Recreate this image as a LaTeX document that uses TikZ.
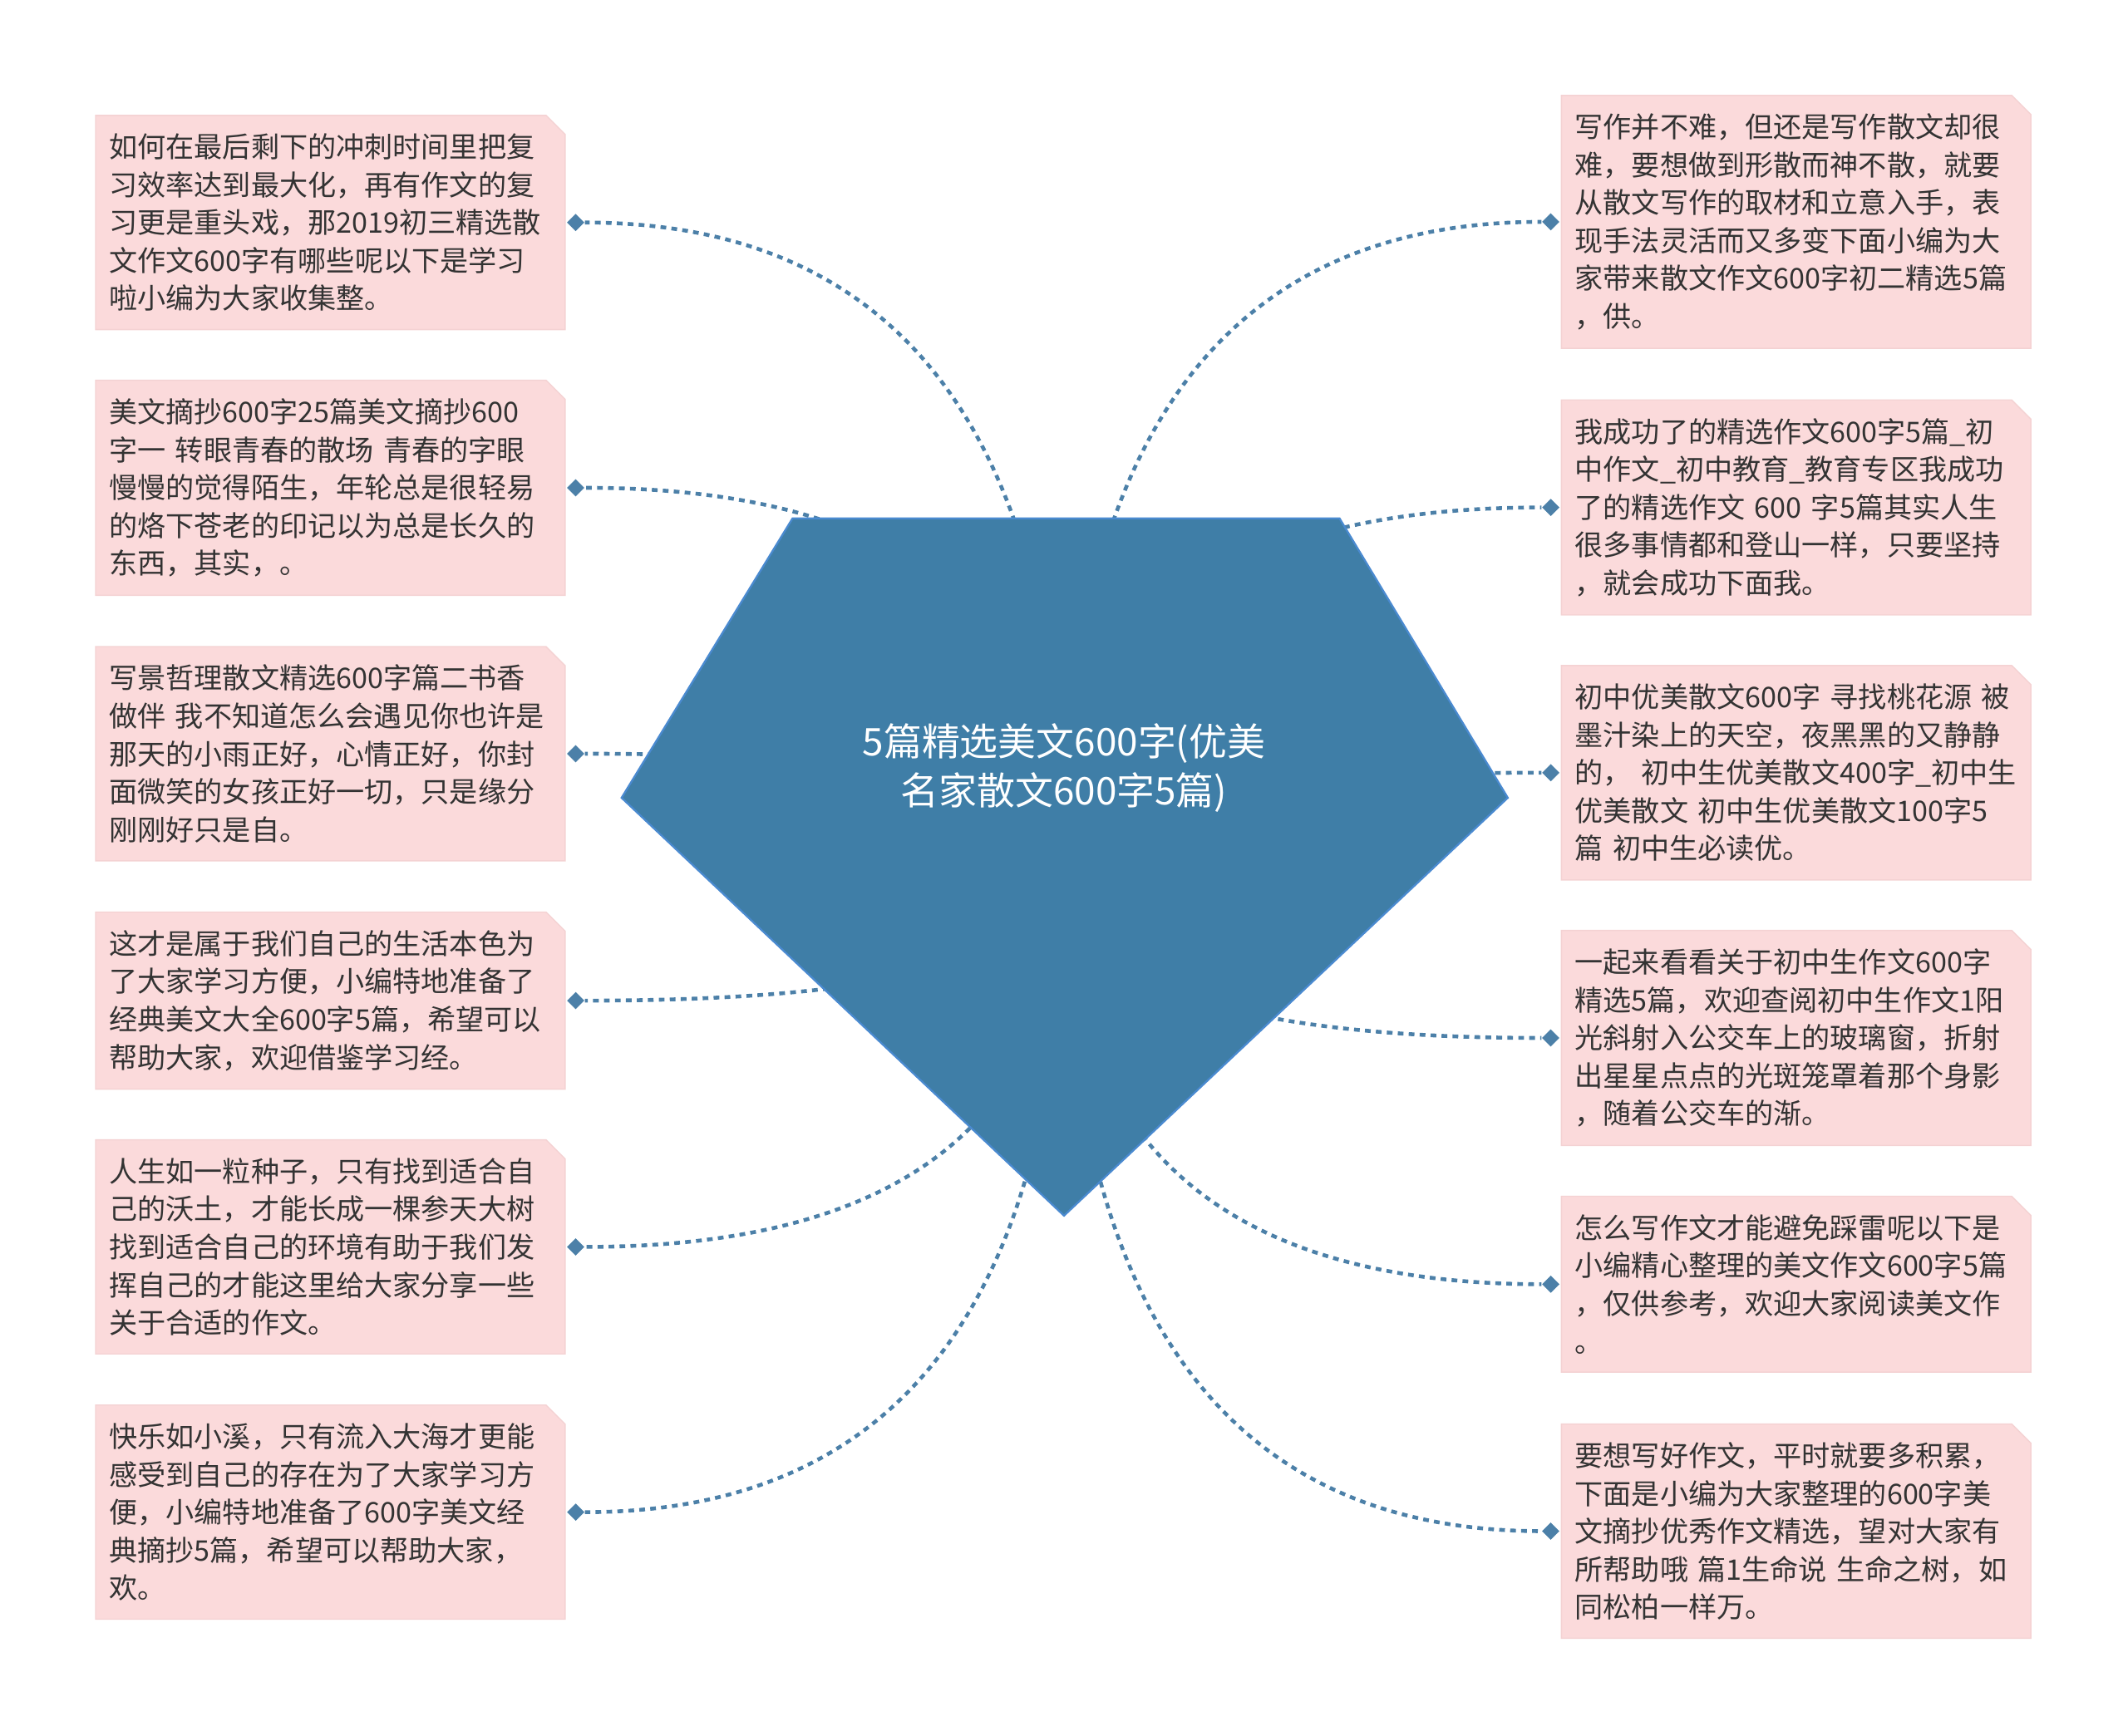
\documentclass[tikz,border=0pt]{standalone}
\usepackage{fontspec}
\newfontfamily\cjk{Noto Sans CJK SC}
\usetikzlibrary{shapes.misc, shapes.geometric, calc, positioning}
\definecolor{hubblue}{HTML}{3F7EA7}
\definecolor{hubline}{HTML}{4A8AD0}
\definecolor{linkblue}{HTML}{4C80A8}
\definecolor{leafpink}{HTML}{FBDADB}
\definecolor{leafline}{HTML}{F4D2D3}
\definecolor{leaftext}{HTML}{333333}
\pgfdeclarelayer{bg}
\pgfsetlayers{bg,main}
\tikzset{
  leaf/.style={
    chamfered rectangle, chamfered rectangle corners=north east,
    chamfered rectangle xsep=0.14cm, chamfered rectangle ysep=0.14cm,
    fill=leafpink, draw=leafline, line width=0.5pt,
    text width=6.52cm, align=left,
    inner xsep=0.06cm, inner ysep=0.13cm,
    font=\cjk\fontsize{11.9}{15.87}\selectfont, text=leaftext,
  },
  hubshape/.style={fill=hubblue, draw=hubline, line width=0.8pt},
  hubtext/.style ={align=center, text=white,
                   font=\cjk\fontsize{16}{20.4}\selectfont},
  dot/.style     ={diamond, fill=linkblue, inner sep=0pt, minimum size=0.26cm},
  link/.style    ={linkblue, line width=1.6pt, dash pattern=on 2.4pt off 2.2pt},
}
\begin{document}
\begin{tikzpicture}[x=0.02cm, y=-0.02cm]
\useasboundingbox (0,0) rectangle (1568,1279);

% centre topic
\path[hubshape] (584,382) -- (987,382) -- (1111,588) -- (784,896) -- (458,588) -- cycle;
\coordinate (hub) at (784,639);
\node[hubtext] (root) at (784,566) {5篇精选美文600字(优美\\名家散文600字5篇)};

% left leaves
\node[leaf, anchor=west] (L1) at (70,164)
  {如何在最后剩下的冲刺时间里把复\\习效率达到最大化，再有作文的复\\习更是重头戏，那2019初三精选散\\文作文600字有哪些呢以下是学习\\啦小编为大家收集整。};
\node[leaf, anchor=west] (L2) at (70,359.5)
  {美文摘抄600字25篇美文摘抄600\\字一 转眼青春的散场 青春的字眼\\慢慢的觉得陌生，年轮总是很轻易\\的烙下苍老的印记以为总是长久的\\东西，其实，。};
\node[leaf, anchor=west] (L3) at (70,555.5)
  {写景哲理散文精选600字篇二书香\\做伴 我不知道怎么会遇见你也许是\\那天的小雨正好，心情正好，你封\\面微笑的女孩正好一切，只是缘分\\刚刚好只是自。};
\node[leaf, anchor=west] (L4) at (70,737.5)
  {这才是属于我们自己的生活本色为\\了大家学习方便，小编特地准备了\\经典美文大全600字5篇，希望可以\\帮助大家，欢迎借鉴学习经。};
\node[leaf, anchor=west] (L5) at (70,919)
  {人生如一粒种子，只有找到适合自\\己的沃土，才能长成一棵参天大树\\找到适合自己的环境有助于我们发\\挥自己的才能这里给大家分享一些\\关于合适的作文。};
\node[leaf, anchor=west] (L6) at (70,1114.5)
  {快乐如小溪，只有流入大海才更能\\感受到自己的存在为了大家学习方\\便，小编特地准备了600字美文经\\典摘抄5篇，希望可以帮助大家，\\欢。};

% right leaves
\node[leaf, anchor=west] (R1) at (1150,163.5)
  {写作并不难，但还是写作散文却很\\难，要想做到形散而神不散，就要\\从散文写作的取材和立意入手，表\\现手法灵活而又多变下面小编为大\\家带来散文作文600字初二精选5篇\\，供。};
\node[leaf, anchor=west] (R2) at (1150,374)
  {我成功了的精选作文600字5篇\_初\\中作文\_初中教育\_教育专区我成功\\了的精选作文 600 字5篇其实人生\\很多事情都和登山一样，只要坚持\\，就会成功下面我。};
\node[leaf, anchor=west] (R3) at (1150,569.5)
  {初中优美散文600字 寻找桃花源 被\\墨汁染上的天空，夜黑黑的又静静\\的， 初中生优美散文400字\_初中生\\优美散文 初中生优美散文100字5\\篇 初中生必读优。};
\node[leaf, anchor=west] (R4) at (1150,765)
  {一起来看看关于初中生作文600字\\精选5篇，欢迎查阅初中生作文1阳\\光斜射入公交车上的玻璃窗，折射\\出星星点点的光斑笼罩着那个身影\\，随着公交车的渐。};
\node[leaf, anchor=west] (R5) at (1150,946.5)
  {怎么写作文才能避免踩雷呢以下是\\小编精心整理的美文作文600字5篇\\，仅供参考，欢迎大家阅读美文作\\。};
\node[leaf, anchor=west] (R6) at (1150,1128.5)
  {要想写好作文，平时就要多积累，\\下面是小编为大家整理的600字美\\文摘抄优秀作文精选，望对大家有\\所帮助哦 篇1生命说 生命之树，如\\同松柏一样万。};

% diamonds
\foreach \n in {L1,L2,L3,L4,L5,L6}
  \node[dot, right=0.01cm of \n] (d\n) {};
\foreach \n in {R1,R2,R3,R4,R5,R6}
  \node[dot, left=0.01cm of \n] (d\n) {};

% dotted links behind the centre
\begin{pgfonlayer}{bg}
\foreach \n in {L1,L2,L3,L4,L5,L6,R1,R2,R3,R4,R5,R6}
  \draw[link] (hub) .. controls ($(hub)!0.6667!(hub |- d\n)$)
                    and ($(d\n)!0.6667!(hub |- d\n)$) .. (d\n);
\end{pgfonlayer}

\end{tikzpicture}
\end{document}
